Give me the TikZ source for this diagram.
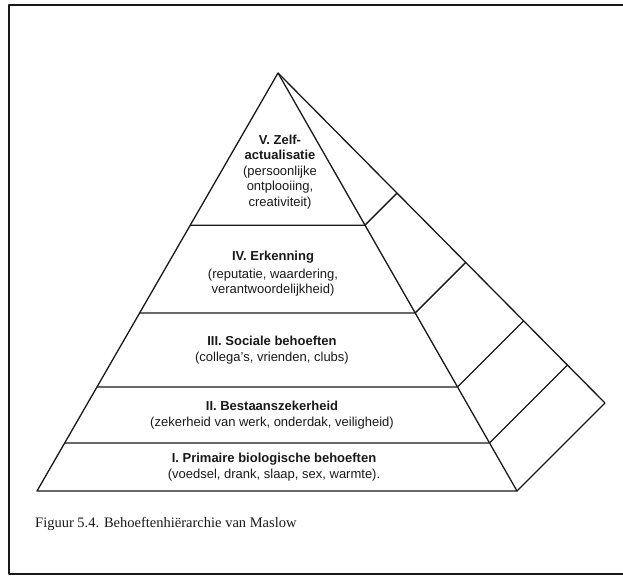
\documentclass[tikz,border=0pt]{standalone}
\usepackage{fontspec}
\setmainfont{Liberation Serif}
\setsansfont{Liberation Sans}
\usetikzlibrary{calc}
\definecolor{inkblack}{RGB}{25,25,25}

\begin{document}
\begin{tikzpicture}[x=1pt, y=-1pt, line join=round,
    edge/.style={inkblack, line width=1.3pt},
    tiertext/.style={align=center, inner sep=0pt, text=inkblack,
      font=\sffamily\fontsize{13}{15.5}\selectfont},
    caption/.style={anchor=west, inner sep=0pt, text=inkblack,
      font=\rmfamily\fontsize{14.5}{16}\selectfont}]
    \useasboundingbox (0,0) rectangle (623,577);
    % frame, open at the right
    \draw[edge] (623,5) -- (9,5) -- (9,574) -- (623,574);

    % corners of the pyramid
    \coordinate (apex) at (278,73);
    \coordinate (baseL) at (37,491);
    \coordinate (baseR) at (517,491);
    \coordinate (back) at (605,403);
    \draw[edge] (baseL) -- (apex) -- (baseR) -- cycle;
    \draw[edge] (apex) -- (back) -- (baseR);

    % tier lines on front and side
    \foreach \f in {0.364,0.574,0.751,0.885} {
        \draw[edge] ($(apex)!\f!(baseL)$) -- ($(apex)!\f!(baseR)$) -- ($(apex)!\f!(back)$);
    }

    \node[tiertext] (zelf) at (280,172) {\textbf{V. Zelf-}\\\textbf{actualisatie}\\(persoonlijke\\ontplooiing,\\creativiteit)};
    \node[tiertext] (erkenning) at (273,274) {\textbf{IV. Erkenning}\\[2pt](reputatie, waardering,\\verantwoordelijkheid)};
    \node[tiertext] (sociaal) at (272,350) {\textbf{III. Sociale behoeften}\\(collega's, vrienden, clubs)};
    \node[tiertext] (bestaan) at (272,415) {\textbf{II. Bestaanszekerheid}\\(zekerheid van werk, onderdak, veiligheid)};
    \node[tiertext] (primair) at (274,467) {\textbf{I. Primaire biologische behoeften}\\(voedsel, drank, slaap, sex, warmte).};

    \node[caption] (fig) at (35,524) {Figuur 5.4. Behoeftenhiërarchie van Maslow};
\end{tikzpicture}
\end{document}
